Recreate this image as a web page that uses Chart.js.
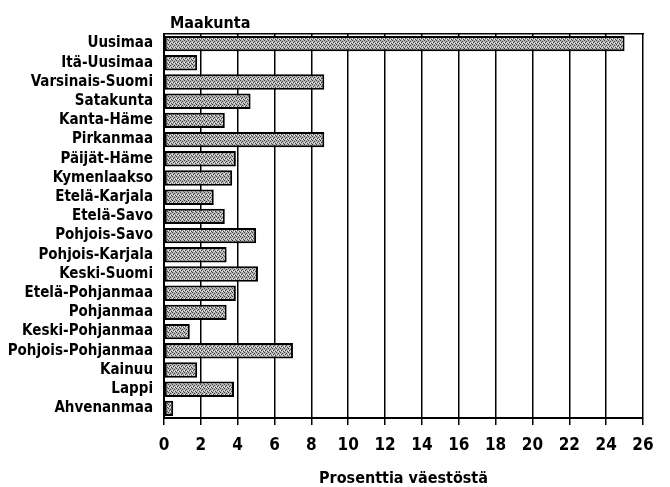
<!DOCTYPE html>
<html>
<head>
<meta charset="utf-8">
<script src="https://cdn.jsdelivr.net/npm/chart.js@4"></script>
<style>
  html, body { margin: 0; padding: 0; background: #fff; }
  #wrap { width: 670px; height: 487px; }
</style>
</head>
<body>
<div id="wrap"><canvas id="regionChart" width="670" height="487"></canvas></div>
<script>
// Share of population by region (percent)
const regions = [
  'Uusimaa', 'Itä-Uusimaa', 'Varsinais-Suomi', 'Satakunta', 'Kanta-Häme',
  'Pirkanmaa', 'Päijät-Häme', 'Kymenlaakso', 'Etelä-Karjala', 'Etelä-Savo',
  'Pohjois-Savo', 'Pohjois-Karjala', 'Keski-Suomi', 'Etelä-Pohjanmaa', 'Pohjanmaa',
  'Keski-Pohjanmaa', 'Pohjois-Pohjanmaa', 'Kainuu', 'Lappi', 'Ahvenanmaa'
];
const shares = [
  25.0, 1.8, 8.7, 4.7, 3.3,
  8.7, 3.9, 3.7, 2.7, 3.3,
  5.0, 3.4, 5.1, 3.9, 3.4,
  1.4, 7.0, 1.8, 3.8, 0.5
];
const xTicks = [0, 2, 4, 6, 8, 10, 12, 14, 16, 18, 20, 22, 24, 26];

const labelFont = "'Liberation Sans Narrow', 'DejaVu Sans Condensed', 'Liberation Sans', sans-serif";

// stippled gray fill like the scanned print
function makeStipple() {
  const c = document.createElement('canvas');
  c.width = 4; c.height = 4;
  const g = c.getContext('2d');
  g.fillStyle = '#b4b4b4';
  g.fillRect(0, 0, 4, 4);
  g.fillStyle = '#404040';
  g.fillRect(0, 0, 1, 1);
  g.fillRect(2, 1, 1, 1);
  g.fillRect(1, 2, 1, 1);
  g.fillRect(3, 3, 1, 1);
  g.fillStyle = '#eeeeee';
  g.fillRect(2, 3, 1, 1);
  g.fillRect(0, 2, 1, 1);
  return g.createPattern(c, 'repeat');
}

// "Maakunta" header sits above the plot, starting at the left edge of the plot area
const headerPlugin = {
  id: 'header',
  afterDraw(chart) {
    const ctx = chart.ctx;
    ctx.save();
    ctx.font = "bold 16px " + labelFont;
    ctx.fillStyle = '#000';
    ctx.textBaseline = 'alphabetic';
    ctx.textAlign = 'left';
    ctx.fillText('Maakunta', chart.chartArea.left + 6, 28);
    ctx.restore();
  }
};

const ctx = document.getElementById('regionChart').getContext('2d');

new Chart(ctx, {
  type: 'bar',
  data: {
    labels: regions,
    datasets: [{
      data: shares,
      backgroundColor: makeStipple(),
      borderColor: '#000',
      borderWidth: 2,
      borderSkipped: false,
      barPercentage: 0.8,
      categoryPercentage: 1.0
    }]
  },
  options: {
    indexAxis: 'y',
    responsive: false,
    animation: false,
    layout: { padding: { top: 34, right: 27, bottom: 0, left: 0 } },
    plugins: {
      legend: { display: false },
      tooltip: { enabled: false }
    },
    scales: {
      x: {
        min: 0,
        max: 26,
        afterBuildTicks: (scale) => { scale.ticks = xTicks.map(v => ({ value: v })); },
        afterFit: (scale) => { scale.height = 69; },
        grid: { color: '#000', lineWidth: 1.5, tickLength: 7, drawOnChartArea: true },
        border: { display: true, color: '#000', width: 2 },
        ticks: {
          color: '#000',
          padding: 10,
          maxRotation: 0,
          autoSkip: false,
          font: { family: labelFont, size: 17, weight: 'bold' }
        },
        title: {
          display: true,
          text: 'Prosenttia väestöstä',
          color: '#000',
          padding: { top: 0, bottom: 0 },
          font: { family: labelFont, size: 16, weight: 'bold', lineHeight: 1 }
        }
      },
      x2: {
        position: 'top',
        min: 0,
        max: 26,
        afterFit: (scale) => { scale.height = 0; },
        grid: { display: false },
        ticks: { display: false },
        border: { display: true, color: '#000', width: 1.5 }
      },
      y: {
        afterFit: (scale) => { scale.width = 164; },
        grid: { display: false },
        border: { display: true, color: '#000', width: 2 },
        ticks: {
          color: '#000',
          padding: 3,
          autoSkip: false,
          font: { family: labelFont, size: 15, weight: 'bold' }
        }
      }
    }
  },
  plugins: [headerPlugin]
});
</script>
</body>
</html>
